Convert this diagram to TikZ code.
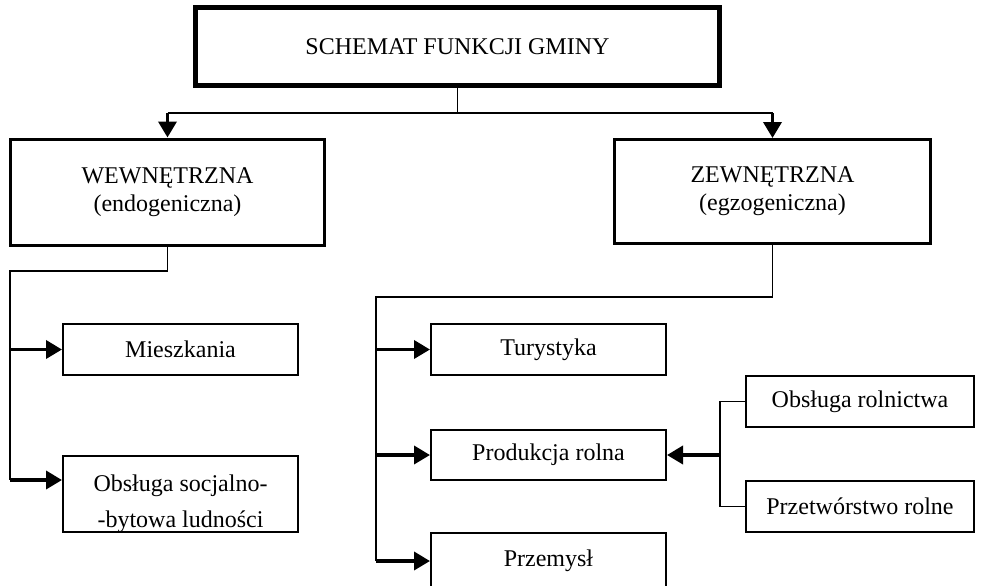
\documentclass[tikz,border=0pt]{standalone}
\usepackage{fontspec}
\setmainfont{Liberation Serif}
\usetikzlibrary{arrows.meta,positioning}

\begin{document}
\begin{tikzpicture}
[x=0.5pt,y=-0.5pt,
font=\fontsize{12}{14}\selectfont,
head/.style={rectangle,draw=black,line width=2.5pt,minimum width=262pt,minimum height=39pt},
side/.style={rectangle,draw=black,line width=1.5pt,minimum width=157pt,minimum height=53pt,align=center},
task/.style={rectangle,draw=black,line width=1pt,minimum width=117.5pt,minimum height=25.5pt,align=center},
link/.style={draw=black,line width=0.8pt},
push/.style={draw=black,line width=1.8pt,-{Triangle[length=8pt,width=9pt]}}]
\useasboundingbox (0,0) rectangle (982,585);
\clip (0,0) rectangle (982,585);

\node[head] at (457.5,46.5) (gmina) {SCHEMAT FUNKCJI GMINY};
\node[side] at (167.5,192)  (wew) {WEWNĘTRZNA\\(endogeniczna)};
\node[side,minimum width=158pt,minimum height=52pt] at (772.5,191.5) (zew) {ZEWNĘTRZNA\\(egzogeniczna)};

\node[task] at (180.5,349.5) (mieszk) {Mieszkania};
\node[task,minimum height=38pt] at (180.5,494) (socjal) {};
\node[align=center] at (180.5,504) (socjaltxt) {Obsługa socjalno-\\[4pt]-bytowa ludności};

\node[task] at (548.5,349.5) (tur) {Turystyka};
\node[task,minimum height=25pt] at (548.5,455) (prod) {Produkcja rolna};
\node[task,minimum height=28pt] at (548.5,561) (przem) {Przemysł};
\node[task,minimum width=114pt] at (860,401.5) (obsrol) {Obsługa rolnictwa};
\node[task,minimum width=114pt] at (860,506.5) (przetw) {Przetwórstwo rolne};

% gmina -> two kinds
\coordinate (split) at (457.5,113);
\coordinate (lsplit) at (167.5,113);
\coordinate (rsplit) at (772.5,113);
\path[link] (gmina.south) -- (split);
\path[link] (lsplit) -- (rsplit);
\path (lsplit) edge[push] (wew.north);
\path (rsplit) edge[push] (zew.north);

% endogeniczna
\coordinate (ltop) at (10,271);
\coordinate (lbot) at (10,480);
\path[link] (wew.south) |- (ltop) -- (lbot);
\path (ltop |- mieszk.west) edge[push] (mieszk.west);
\path (lbot) edge[push] (lbot -| socjal.west);

% egzogeniczna
\coordinate (rtop) at (376,297);
\coordinate (rbot) at (376,561);
\path[link] (zew.south) |- (rtop) -- (rbot);
\path (rtop |- tur.west) edge[push] (tur.west);
\path (rtop |- prod.west) edge[push] (prod.west);
\path (rbot) edge[push] (przem.west);

% rolnictwo
\coordinate (fork) at (720,455);
\path[link] (obsrol.west) -| (fork) |- (przetw.west);
\path (fork) edge[push] (prod.east);
\end{tikzpicture}
\end{document}
